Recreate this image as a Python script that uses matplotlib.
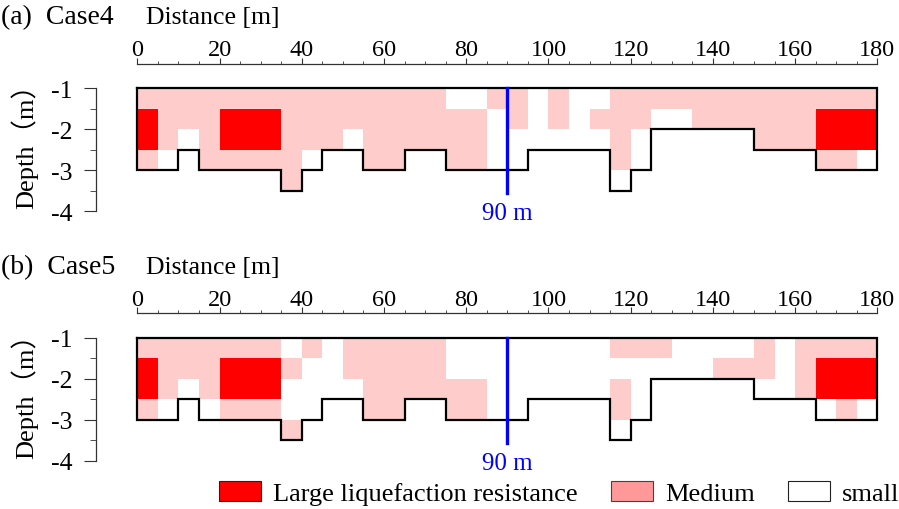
import numpy as np
import matplotlib.pyplot as plt
from matplotlib.colors import ListedColormap
from matplotlib.patches import Patch

plt.rcParams['font.family'] = ['Liberation Serif', 'Noto Sans CJK JP']
plt.rcParams['axes.unicode_minus'] = False

# cell edges: 5 m columns, 0.5 m rows
dist_edges = np.arange(0, 185, 5)
depth_edges = np.array([-1, -1.5, -2, -2.5, -3, -3.5])

# depth of the lower boundary for each 5 m column
bottom_depth = [-3, -3, -2.5, -3, -3, -3, -3, -3.5, -3, -2.5, -2.5, -3,
                -3, -2.5, -2.5, -3, -3, -3, -3, -2.5, -2.5, -2.5, -2.5, -3.5,
                -3, -2, -2, -2, -2, -2, -2.5, -2.5, -2.5, -3, -3, -3]

# '.' small, 'm' medium, 'L' large liquefaction resistance (rows top -> bottom)
case4_rows = [
    "mmmmmmmmmmmmmmm..mm.m..mmmmmmmmmmmmm",
    "LmmmLLLmmmmmmmmmm.m.m.mmm..mmmmmmLLL",
    "Lm.mLLLmmm.mmmmmm......m......mmmLLL",
    "m..mmmmm...mm..mm......m.........mm.",
    ".......m............................",
]
case5_rows = [
    "mmmmmmm.m.mmmmm........mmm....m.mmmm",
    "LmmmLLLm..mmmmm.............mmm.mLLL",
    "Lm.mLLL....mmmmmm......m........mLLL",
    "m...mmm....mm..mm......m..........m.",
    ".......m............................",
]

x_ticks = list(range(0, 181, 20))
y_ticks = [-1, -2, -3, -4]
y_labels = ['-1', '-2', '-3', '-4']
marker_x = 90

legend_labels = ['Large liquefaction resistance', 'Medium', 'small']

code = {'.': 0, 'm': 1, 'L': 2}
cmap = ListedColormap(['white', '#FFCCCC', '#FF0000'])


def to_grid(rows):
    return np.array([[code[ch] for ch in r] for r in rows])


def draw_panel(ax, rows):
    grid = to_grid(rows)
    ax.pcolormesh(dist_edges, depth_edges, grid, cmap=cmap, vmin=0, vmax=2)

    xb = np.repeat(dist_edges, 2)[1:-1]
    yb = np.repeat(bottom_depth, 2)
    ox = np.concatenate([[0], xb, [180, 0]])
    oy = np.concatenate([[-1], yb, [-1, -1]])
    ax.plot(ox, oy, color='black', lw=1.6, solid_joinstyle='miter')

    ax.plot([marker_x, marker_x], [-1, -3.55], color='#0000FF', lw=2.4)
    ax.text(marker_x, -4.05, '%d m' % marker_x, color='#0000FF', ha='center',
            va='center', fontsize=18, clip_on=False)

    ax.set_xlim(-10.5, 181)
    ax.set_ylim(-4.1, -0.4)
    ax.spines['right'].set_visible(False)
    ax.spines['bottom'].set_visible(False)
    ax.spines['top'].set_bounds(0, 180)
    ax.spines['left'].set_position(('data', -10))
    ax.spines['left'].set_bounds(-4, -1)
    for s in ('top', 'left'):
        ax.spines[s].set_color('#333333')
        ax.spines[s].set_linewidth(0.9)

    ax.xaxis.tick_top()
    ax.set_xticks(x_ticks)
    ax.set_xticks(np.arange(0, 181, 5), minor=True)
    ax.tick_params(axis='x', which='major', direction='out', length=4.5,
                   labelsize=17.5, pad=-2, color='#333333')
    ax.tick_params(axis='x', which='minor', direction='out', length=2.5,
                   color='#333333')
    ax.set_yticks(y_ticks)
    ax.set_yticklabels(y_labels)
    ax.set_yticks([-1.5, -2.5, -3.5], minor=True)
    ax.tick_params(axis='y', which='major', direction='out', length=8.5,
                   labelsize=18.5, pad=8.5, color='#333333')
    ax.tick_params(axis='y', which='minor', direction='out', length=4.5,
                   color='#333333')
    ax.set_ylabel('Depth（m）', fontsize=19)
    ax.yaxis.set_label_coords(-0.071, 0.5)


fig = plt.figure(figsize=(8.99, 5.10), dpi=100)
ax_a = fig.add_axes([0.1047, 0.5757, 0.8758, 0.2975])
ax_b = fig.add_axes([0.1047, 0.0861, 0.8758, 0.2975])
draw_panel(ax_a, case4_rows)
draw_panel(ax_b, case5_rows)

fig.text(0.001, 1 - 18 / 510, '(a)  Case4', fontsize=20, va='center')
fig.text(146 / 899, 1 - 18 / 510, 'Distance [m]', fontsize=18.5, va='center')
fig.text(0.001, 1 - 268 / 510, '(b)  Case5', fontsize=20, va='center')
fig.text(146 / 899, 1 - 268 / 510, 'Distance [m]', fontsize=18.5, va='center')

handles = [Patch(facecolor='#FF0000', edgecolor='#222222', lw=0.8),
           Patch(facecolor='#FF9999', edgecolor='#444444', lw=0.8),
           Patch(facecolor='white', edgecolor='#222222', lw=0.8)]
fig.legend(handles, legend_labels, ncol=3, loc='center',
           bbox_to_anchor=(0.622, 1 - 494 / 510), frameon=False, fontsize=19,
           handlelength=1.6, handleheight=0.8, handletextpad=0.45,
           columnspacing=1.25, borderaxespad=0, borderpad=0)

fig.savefig('out.png', dpi=100)
